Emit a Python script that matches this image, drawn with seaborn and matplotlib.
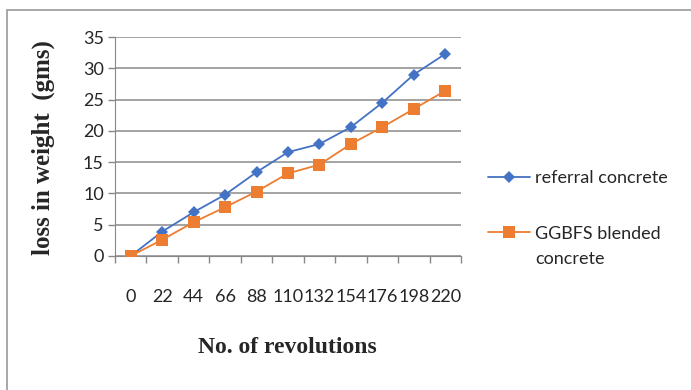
import matplotlib
matplotlib.use("Agg")
import matplotlib.pyplot as plt
import seaborn as sns
import pandas as pd
from matplotlib.patches import Rectangle

revolutions = ["0", "22", "44", "66", "88", "110", "132", "154", "176", "198", "220"]
referral = [0, 3.9, 7.0, 9.8, 13.4, 16.6, 17.9, 20.6, 24.5, 29.0, 32.3]
ggbfs = [0, 2.6, 5.4, 7.8, 10.3, 13.2, 14.6, 17.9, 20.6, 23.5, 26.4]
series_names = ["referral concrete", "GGBFS blended concrete"]
y_ticks = [0, 5, 10, 15, 20, 25, 30, 35]

sns.set_style("white")
plt.rcParams["font.family"] = ["Lato", "DejaVu Sans"]

pos = list(range(len(revolutions)))
df = pd.DataFrame({
    "pos": pos * 2,
    "loss": referral + ggbfs,
    "series": [series_names[0]] * len(pos) + [series_names[1]] * len(pos),
})

fig = plt.figure(figsize=(6.91, 3.90), dpi=100)
fig.patch.set_facecolor("white")
ax = fig.add_axes([115 / 691, 1 - 256 / 390, (461 - 115) / 691, (256 - 37) / 390])

# chart frame: top and left edges visible
fig.add_artist(Rectangle((7 / 691, -0.05), 1.1, 1 - 10 / 390 + 0.05,
                         transform=fig.transFigure, fill=False,
                         edgecolor="#9a9a9a", linewidth=1.2))

palette = {series_names[0]: "#4472C4", series_names[1]: "#ED7D31"}
markers = {series_names[0]: "D", series_names[1]: "s"}
sizes_ms = {series_names[0]: 6.5, series_names[1]: 8.5}

for name in series_names:
    sub = df[df["series"] == name]
    sns.lineplot(data=sub, x="pos", y="loss", ax=ax, color=palette[name],
                 marker=markers[name], markersize=sizes_ms[name],
                 markeredgewidth=0, linewidth=1.3, label=name, zorder=3)

ax.set_xlim(-0.5, len(revolutions) - 0.5)
ax.set_ylim(0, 35)
ax.set_yticks(y_ticks)
ax.set_yticklabels([str(v) for v in y_ticks], fontsize=13)
ax.set_xticks(pos)
ax.set_xticklabels(revolutions, fontsize=13)
ax.tick_params(axis="x", length=0, pad=24)
ax.tick_params(axis="y", length=5, width=1, color="#888888", left=True, pad=3)
# category boundary ticks on the x axis
ax.set_xticks([p - 0.5 for p in pos] + [len(pos) - 0.5], minor=True)
ax.tick_params(axis="x", which="minor", length=5, width=1, color="#888888", bottom=True)

ax.grid(axis="y", color="#8a8a8a", linewidth=1.1)
ax.set_axisbelow(True)
for s in ["top", "right"]:
    ax.spines[s].set_visible(False)
ax.spines["left"].set_color("#888888")
ax.spines["bottom"].set_color("#888888")

serif = ["Liberation Serif", "DejaVu Serif"]
ax.set_xlabel("No. of revolutions", fontsize=17, fontweight="bold", family=serif)
ax.set_ylabel("loss in weight  (gms)", fontsize=18, fontweight="bold", family=serif)
ax.xaxis.set_label_coords((287 - 115) / 346, -(337 - 256) / 219)
ax.yaxis.set_label_coords(-(115 - 55) / 346, (256 - 148) / 219)

# legend: second entry label wraps onto a second line under its first line
handles, labels = ax.get_legend_handles_labels()
ax.get_legend().remove()
leg_labels = [labels[0], "GGBFS blended"]
leg = fig.legend(handles, leg_labels, loc="upper left",
                 bbox_to_anchor=(488 / 691, 1 - 170 / 390),
                 frameon=False, fontsize=13, labelspacing=2.2, handlelength=2.3,
                 handletextpad=0.3, borderaxespad=0, borderpad=0)
fig.canvas.draw()
t2 = leg.get_texts()[1]
bb = t2.get_window_extent()
fig.text(bb.x0 / fig.bbox.width, (bb.y0 - 9) / fig.bbox.height, "concrete",
         fontsize=13, va="top", ha="left")

fig.savefig("out.png", dpi=100, facecolor="white")
